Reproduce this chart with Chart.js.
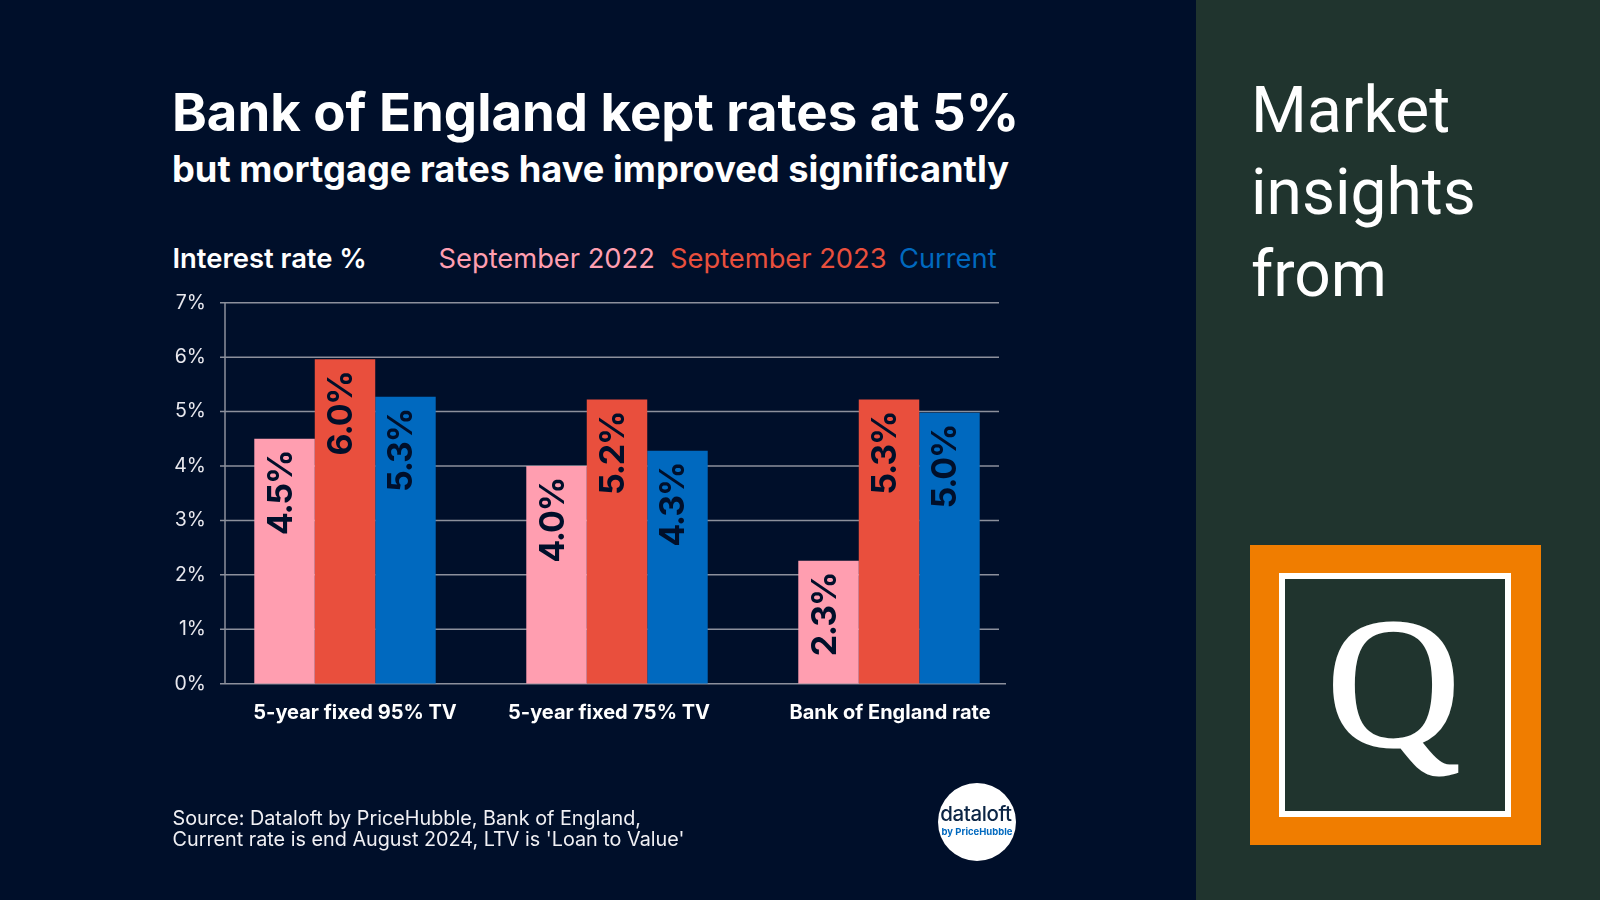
<!DOCTYPE html>
<html>
<head>
<meta charset="utf-8">
<title>Bank of England rates</title>
<script src="https://cdn.jsdelivr.net/npm/chart.js@4"></script>
<style>
    html, body { margin: 0; padding: 0; width: 1600px; height: 900px; overflow: hidden; background: #000f2a; font-family: Inter, sans-serif; }
    canvas { position: absolute; left: 0; top: 0; }
    .txt { position: absolute; white-space: nowrap; line-height: 1; color: #fff; }
    #title { left: 172px; top: 85.5px; font-size: 52.7px; font-weight: 700; }
    #subtitle { left: 172px; top: 151px; font-size: 36.25px; font-weight: 700; }
    #unit { left: 172.5px; top: 245px; font-size: 27.4px; font-weight: 600; }
    .legend-item { top: 244.5px; font-size: 27.3px; font-weight: 400; }
    #source { left: 172.5px; top: 807.5px; font-size: 19.8px; line-height: 21.4px; color: #f0f0f4; }
    #panel { position: absolute; left: 1196px; top: 0; width: 404px; height: 900px; background: #20342e; }
    #insights { left: 1251px; top: 70px; font-family: Roboto, sans-serif; font-size: 64px; line-height: 82px; white-space: pre; }
    #logo-outer { position: absolute; left: 1250px; top: 545px; width: 291px; height: 300px; background: #f07d00; }
    #logo-inner { position: absolute; left: 1279px; top: 573px; width: 220px; height: 232px; border: 6.5px solid #fff; background: #20342e; }
    #logo-q { left: 1327px; top: 591px; font-family: "Liberation Serif", serif; font-size: 184px; font-weight: 400; -webkit-text-stroke: 3px #fff; }
    #badge { position: absolute; left: 938px; top: 783px; width: 78px; height: 78px; border-radius: 50%; background: #fff; text-align: center; }
    #badge b { position: absolute; left: -3px; width: 82px; top: 21px; font-size: 20.5px; font-weight: 500; color: #0b2545; line-height: 1; letter-spacing: -0.4px; }
    #badge i { position: absolute; left: 0; width: 100%; top: 44px; font-size: 9.5px; font-weight: 700; font-style: normal; color: #0069bf; line-height: 1; }
</style>
</head>
<body>
<div id="panel"></div>
<div class="txt" id="title">Bank of England kept rates at 5%</div>
<div class="txt" id="subtitle">but mortgage rates have improved significantly</div>
<div class="txt" id="unit">Interest rate %</div>
<div id="legend"></div>
<canvas id="chart" width="1600" height="900"></canvas>
<div class="txt" id="source">Source: Dataloft by PriceHubble, Bank of England,<br>Current rate is end August 2024, LTV is 'Loan to Value'</div>
<div id="badge"><b>dataloft</b><i>by PriceHubble</i></div>
<div class="txt" id="insights">Market
insights
from</div>
<div id="logo-outer"></div>
<div id="logo-inner"></div>
<div class="txt" id="logo-q">Q</div>

<script>
/* ===== Data ===== */
const categories = ['5-year fixed 95% TV', '5-year fixed 75% TV', 'Bank of England rate'];
const seriesNames = ['September 2022', 'September 2023', 'Current'];

const sept2022 = [4.5, 4.0, 2.26];
const sept2023 = [5.96, 5.22, 5.22];
const current = [5.27, 4.28, 4.98];

// printed labels do not always equal the bar height in the source
const sept2022Labels = ['4.5%', '4.0%', '2.3%'];
const sept2023Labels = ['6.0%', '5.2%', '5.3%'];
const currentLabels = ['5.3%', '4.3%', '5.0%'];

const COLORS = ['#ff9eb0', '#e94f3d', '#0069bf'];
const LEGEND_X = [438.5, 670, 899];
const CATEGORY_SHIFT = [10, -8, 1];   // category labels sit off-centre in the source
const GRID_LEFT = 220, AXIS_X = 225, GRID_RIGHT = 999, BASE_RIGHT = 1006;

document.getElementById('legend').innerHTML = seriesNames.map((name, i) =>
    `<div class="txt legend-item" style="left:${LEGEND_X[i]}px;color:${COLORS[i]}">${name}</div>`
).join('');

// grid and axis lines stop short of the plot area, so they are drawn here from the y scale
const gridPlugin = {
    id: 'gridLines',
    beforeDatasetsDraw(chart) {
        const { ctx, scales: { y } } = chart;
        ctx.save();
        ctx.strokeStyle = '#8c909c';
        ctx.lineWidth = 1.5;
        y.ticks.forEach(t => {
            const py = y.getPixelForValue(t.value);
            ctx.beginPath();
            ctx.moveTo(GRID_LEFT, py);
            ctx.lineTo(t.value === 0 ? BASE_RIGHT : GRID_RIGHT, py);
            ctx.stroke();
        });
        ctx.beginPath();
        ctx.moveTo(AXIS_X, y.getPixelForValue(7));
        ctx.lineTo(AXIS_X, y.getPixelForValue(0));
        ctx.stroke();
        ctx.restore();
    }
};

// rotated value labels inside the bars + category labels under the axis
const labelPlugin = {
    id: 'barLabels',
    afterDatasetsDraw(chart) {
        const { ctx, scales: { x, y } } = chart;
        ctx.save();
        chart.data.datasets.forEach((ds, di) => {
            chart.getDatasetMeta(di).data.forEach((bar, i) => {
                ctx.save();
                ctx.translate(bar.x + 7, bar.y + 12);
                ctx.rotate(-Math.PI / 2);
                ctx.font = '700 34px Inter';
                ctx.letterSpacing = '-1.2px';
                ctx.fillStyle = '#000f2a';
                ctx.textAlign = 'right';
                ctx.textBaseline = 'alphabetic';
                ctx.fillText(ds.valueLabels[i], 0, 0);
                ctx.restore();
            });
        });
        ctx.font = '700 20px Inter';
        ctx.fillStyle = '#ffffff';
        ctx.textAlign = 'center';
        ctx.textBaseline = 'alphabetic';
        categories.forEach((c, i) => {
            ctx.fillText(c, x.getPixelForValue(i) + CATEGORY_SHIFT[i], y.getPixelForValue(0) + 35);
        });
        ctx.restore();
    }
};

new Chart(document.getElementById('chart').getContext('2d'), {
    type: 'bar',
    data: {
        labels: categories,
        datasets: [
            { label: seriesNames[0], data: sept2022, valueLabels: sept2022Labels, backgroundColor: COLORS[0] },
            { label: seriesNames[1], data: sept2023, valueLabels: sept2023Labels, backgroundColor: COLORS[1] },
            { label: seriesNames[2], data: current, valueLabels: currentLabels, backgroundColor: COLORS[2] }
        ]
    },
    options: {
        responsive: false,
        animation: false,
        layout: { padding: { left: 0, right: 575, top: 302.7, bottom: 216.3 } },
        datasets: { bar: { categoryPercentage: 0.667, barPercentage: 1 } },
        plugins: { legend: { display: false }, tooltip: { enabled: false } },
        scales: {
            x: { display: false },
            y: {
                min: 0,
                max: 7,
                afterFit: s => { s.width = 209; },
                grid: { display: false },
                border: { display: false },
                ticks: {
                    stepSize: 1,
                    padding: -5,
                    color: '#e8e8ee',
                    font: { family: 'Inter', size: 19.5 },
                    callback: v => v + '%'
                }
            }
        }
    },
    plugins: [gridPlugin, labelPlugin]
});
</script>
</body>
</html>
